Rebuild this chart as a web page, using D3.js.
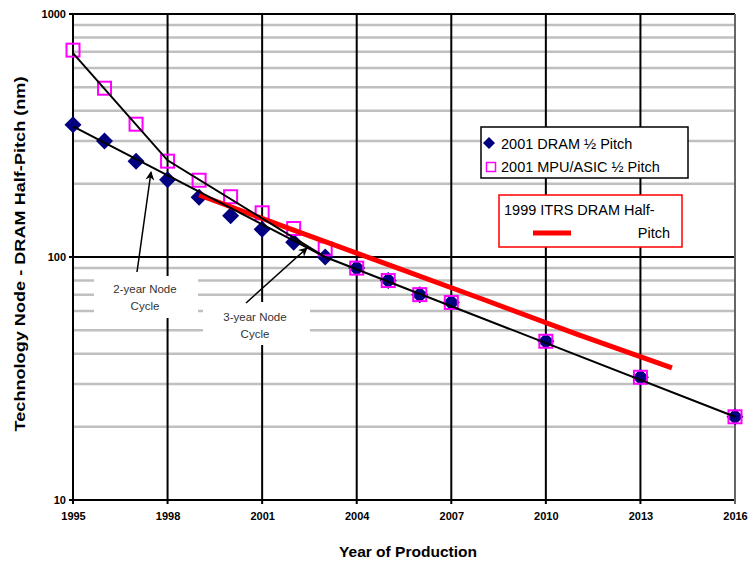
<!DOCTYPE html>
<html>
<head>
<meta charset="utf-8">
<script src="https://cdn.jsdelivr.net/npm/d3@7"></script>
<style>
  body { margin: 0; background: #fff; }
  svg { display: block; }
  text { font-family: "Liberation Sans", Arial, sans-serif; }
</style>
</head>
<body>
<div id="chart"></div>
<script>
const W = 748, H = 562;

// data
const dramYears = [1995, 1996, 1997, 1998, 1999, 2000, 2001, 2002, 2003, 2004, 2005, 2006, 2007, 2010, 2013, 2016];
const dramPitch = [350, 300, 248, 208, 176, 148, 130, 115, 100, 90, 80, 70, 65, 45, 32, 22];
const mpuYears = [1995, 1996, 1997, 1998, 1999, 2000, 2001, 2002, 2003, 2004, 2005, 2006, 2007, 2010, 2013, 2016];
const mpuPitch = [710, 495, 352, 248, 207, 177, 152, 131, 108, 90, 80, 70, 65, 45, 32, 22];
const itrs1999Years = [1999, 2002, 2005, 2008, 2011, 2014];
const itrs1999Pitch = [180, 129, 93, 67, 48, 35];
// hand-drawn trend lines
const mpuTrend = [[1995, 690], [1998, 250], [2003, 100]];
const dramTrend = [[1995, 345], [2003, 100], [2016, 22]];
const yearTicks = [1995, 1998, 2001, 2004, 2007, 2010, 2013, 2016];
const pitchTicks = [10, 100, 1000];

const mLeft = 73, mRight = 735, mTop = 14, mBottom = 500;

const x = d3.scaleLinear().domain([1995, 2016]).range([mLeft, mRight]);
const y = d3.scaleLog().domain([10, 1000]).range([mBottom, mTop]);

const svg = d3.select("#chart").append("svg")
    .attr("width", W)
    .attr("height", H);

svg.append("defs").append("marker")
    .attr("id", "arrow")
    .attr("viewBox", "0 0 10 10")
    .attr("refX", 9).attr("refY", 5)
    .attr("markerWidth", 11).attr("markerHeight", 9)
    .attr("markerUnits", "userSpaceOnUse")
    .attr("orient", "auto")
    .append("path")
    .attr("d", "M0,0 L10,5 L0,10 L3,5 z")
    .attr("fill", "#000");

// minor horizontal grid
const minor = [];
[10, 100].forEach(d => { for (let k = 2; k <= 9; k++) minor.push(d * k); });
svg.append("g").selectAll("line")
    .data(minor)
    .enter().append("line")
    .attr("x1", mLeft).attr("x2", mRight)
    .attr("y1", d => y(d)).attr("y2", d => y(d))
    .attr("stroke", "#c0c0c0")
    .attr("stroke-width", 2.5);

// major horizontal grid
svg.append("g").selectAll("line")
    .data(pitchTicks)
    .enter().append("line")
    .attr("x1", mLeft - 4).attr("x2", mRight)
    .attr("y1", d => y(d)).attr("y2", d => y(d))
    .attr("stroke", "#000")
    .attr("stroke-width", 2);

// vertical grid
svg.append("g").selectAll("line")
    .data(yearTicks)
    .enter().append("line")
    .attr("x1", d => x(d)).attr("x2", d => x(d))
    .attr("y1", mTop).attr("y2", mBottom + 4)
    .attr("stroke", d => d === 2016 ? "#666" : "#000")
    .attr("stroke-width", 2);

// axes labels
const xAxis = d3.axisBottom(x).tickValues(yearTicks).tickFormat(d3.format("d")).tickSize(0).tickPadding(12);
const gx = svg.append("g")
    .attr("transform", "translate(0," + mBottom + ")")
    .call(xAxis);
gx.select(".domain").remove();
gx.selectAll("text")
    .attr("font-family", "'Liberation Sans Narrow', 'Arial Narrow', 'Liberation Sans', sans-serif")
    .attr("font-weight", "bold")
    .attr("font-size", 11)
    .attr("fill", "#000");

const yAxis = d3.axisLeft(y).tickValues(pitchTicks).tickFormat(d3.format("d")).tickSize(0).tickPadding(7);
const gy = svg.append("g")
    .attr("transform", "translate(" + mLeft + ",0)")
    .call(yAxis);
gy.select(".domain").remove();
gy.selectAll("text")
    .attr("font-family", "'Liberation Sans Narrow', 'Arial Narrow', 'Liberation Sans', sans-serif")
    .attr("font-weight", "bold")
    .attr("font-size", 11)
    .attr("fill", "#000");

// annotation boxes (white, hide gridlines)
svg.append("rect").attr("x", 94).attr("y", 276).attr("width", 104).attr("height", 42).attr("fill", "#fff");
svg.append("rect").attr("x", 203).attr("y", 302).attr("width", 107).attr("height", 43).attr("fill", "#fff");

// DRAM diamonds
svg.append("g").selectAll("path")
    .data(dramYears.map((d, i) => [d, dramPitch[i]]))
    .enter().append("path")
    .attr("transform", d => "translate(" + x(d[0]) + "," + y(d[1]) + ")")
    .attr("d", "M0,-8.5 L8.5,0 L0,8.5 L-8.5,0 Z")
    .attr("fill", "#000080");

// MPU squares
svg.append("g").selectAll("rect")
    .data(mpuYears.map((d, i) => [d, mpuPitch[i]]))
    .enter().append("rect")
    .attr("x", d => x(d[0]) - 6.5)
    .attr("y", d => y(d[1]) - 6.5)
    .attr("width", 13).attr("height", 13)
    .attr("fill", "none")
    .attr("stroke", "#ff00ff")
    .attr("stroke-width", 2);

const line = d3.line().x(d => x(d[0])).y(d => y(d[1]));

// 1999 ITRS line
svg.append("path")
    .datum(itrs1999Years.map((d, i) => [d, itrs1999Pitch[i]]))
    .attr("d", line)
    .attr("fill", "none")
    .attr("stroke", "#ff0000")
    .attr("stroke-width", 5);

// trend lines
[mpuTrend, dramTrend].forEach(t => {
    svg.append("path")
        .datum(t)
        .attr("d", line)
        .attr("fill", "none")
        .attr("stroke", "#000")
        .attr("stroke-width", 2);
});

// annotations
const note = svg.append("g")
    .attr("font-size", 11.5)
    .attr("fill", "#333")
    .attr("text-anchor", "middle");
note.append("text").attr("x", 145).attr("y", 293).text("2-year Node");
note.append("text").attr("x", 145).attr("y", 310).text("Cycle");
note.append("text").attr("x", 255).attr("y", 321).text("3-year Node");
note.append("text").attr("x", 255).attr("y", 338).text("Cycle");

svg.append("line")
    .attr("x1", 137).attr("y1", 272).attr("x2", 151).attr("y2", 172)
    .attr("stroke", "#000").attr("stroke-width", 1.5)
    .attr("marker-end", "url(#arrow)");
svg.append("line")
    .attr("x1", 246).attr("y1", 303).attr("x2", 307).attr("y2", 248)
    .attr("stroke", "#000").attr("stroke-width", 1.5)
    .attr("marker-end", "url(#arrow)");

// legend 1
const lg = svg.append("g");
lg.append("rect").attr("x", 481).attr("y", 127).attr("width", 207).attr("height", 51)
    .attr("fill", "#fff").attr("stroke", "#000").attr("stroke-width", 1.5);
lg.append("path").attr("transform", "translate(489,143)")
    .attr("d", "M0,-6 L6,0 L0,6 L-6,0 Z").attr("fill", "#000080");
lg.append("rect").attr("x", 486.5).attr("y", 162.5).attr("width", 9).attr("height", 9)
    .attr("fill", "none").attr("stroke", "#ff00ff").attr("stroke-width", 1.5);
lg.append("text").attr("x", 501).attr("y", 148.5).attr("font-size", 14.5).text("2001 DRAM \u00bd Pitch");
lg.append("text").attr("x", 501).attr("y", 172).attr("font-size", 14.5).text("2001 MPU/ASIC \u00bd Pitch");

// legend 2
const lg2 = svg.append("g");
lg2.append("rect").attr("x", 499).attr("y", 195).attr("width", 183).attr("height", 52)
    .attr("fill", "#fff").attr("stroke", "#ff0000").attr("stroke-width", 1.5);
lg2.append("text").attr("x", 504).attr("y", 215).attr("font-size", 14.5).text("1999 ITRS DRAM Half-");
lg2.append("text").attr("x", 670).attr("y", 238).attr("font-size", 14.5).attr("text-anchor", "end").text("Pitch");
lg2.append("line").attr("x1", 533).attr("x2", 571).attr("y1", 233).attr("y2", 233)
    .attr("stroke", "#ff0000").attr("stroke-width", 5);

// axis titles
svg.append("text")
    .attr("x", 408).attr("y", 557)
    .attr("text-anchor", "middle")
    .attr("font-weight", "bold")
    .attr("font-size", 15)
    .attr("textLength", 138)
    .attr("lengthAdjust", "spacingAndGlyphs")
    .text("Year of Production");
svg.append("text")
    .attr("transform", "translate(25,254) rotate(-90)")
    .attr("text-anchor", "middle")
    .attr("font-weight", "bold")
    .attr("font-size", 15)
    .attr("textLength", 355)
    .attr("lengthAdjust", "spacingAndGlyphs")
    .text("Technology Node - DRAM Half-Pitch (nm)");
</script>
</body>
</html>
